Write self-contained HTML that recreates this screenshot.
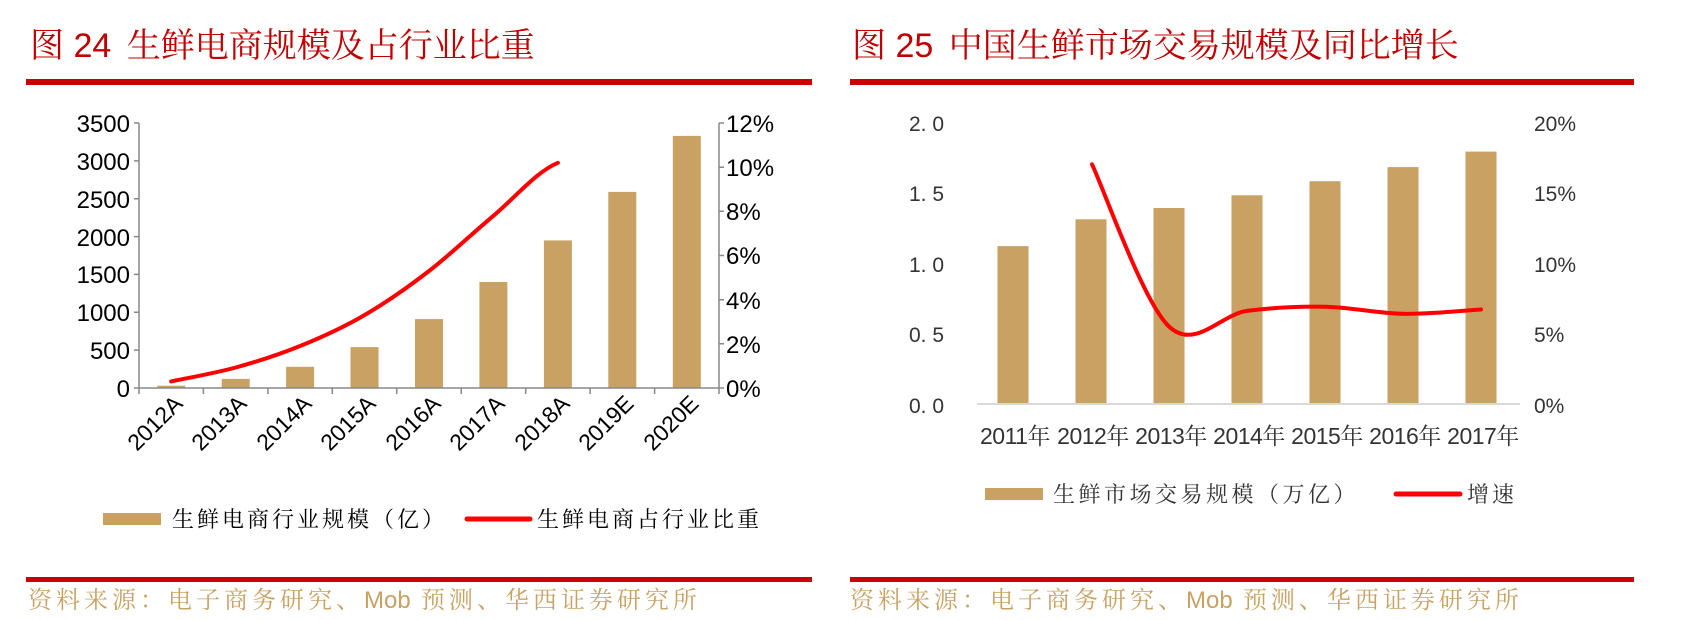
<!DOCTYPE html>
<html><head><meta charset="utf-8"><style>
html,body{margin:0;padding:0;background:#fff;}
svg{display:block;}
text{font-family:"Liberation Sans","Noto Sans CJK SC",sans-serif;}
.cjk{font-family:"Noto Serif CJK SC","Noto Sans CJK SC",serif;}
</style></head><body>
<svg width="1694" height="620" viewBox="0 0 1694 620" xmlns="http://www.w3.org/2000/svg">
<!-- titles -->
<text x="30" y="57" font-size="34" fill="#c00000"><tspan class="cjk">图</tspan> 24 <tspan class="cjk" dx="6">生鲜电商规模及占行业比重</tspan></text>
<text x="852" y="57" font-size="34" fill="#c00000"><tspan class="cjk">图</tspan> 25 <tspan class="cjk" dx="6">中国生鲜市场交易规模及同比增长</tspan></text>
<rect x="26" y="79" width="786" height="6" fill="#cc0000"/>
<rect x="850" y="79" width="784" height="6" fill="#cc0000"/>
<rect x="26" y="577" width="786" height="5" fill="#cc0000"/>
<rect x="850" y="577" width="784" height="5" fill="#cc0000"/>
<text class="cjk" x="28" y="608" font-size="24" letter-spacing="4" fill="#c9a263">资料来源：电子商务研究、<tspan font-family="Liberation Sans" letter-spacing="0">Mob</tspan> 预测、华西证券研究所</text>
<text class="cjk" x="850" y="608" font-size="24" letter-spacing="4" fill="#c9a263">资料来源：电子商务研究、<tspan font-family="Liberation Sans" letter-spacing="0">Mob</tspan> 预测、华西证券研究所</text>

<!-- LEFT CHART -->
<g fill="#c9a263">
<rect x="157.2" y="385.7" width="28" height="2.3"/>
<rect x="221.7" y="378.9" width="28" height="9.1"/>
<rect x="286.1" y="366.8" width="28" height="21.2"/>
<rect x="350.5" y="347.1" width="28" height="40.9"/>
<rect x="415" y="319.1" width="28" height="68.9"/>
<rect x="479.4" y="282" width="28" height="106"/>
<rect x="543.9" y="240.4" width="28" height="147.6"/>
<rect x="608.3" y="191.9" width="28" height="196.1"/>
<rect x="672.8" y="135.9" width="28" height="252.1"/>
</g>
<g stroke="#888" stroke-width="1.5" fill="none">
<line x1="139" y1="123" x2="139" y2="388"/>
<line x1="719" y1="123" x2="719" y2="388"/>
<line x1="139" y1="388" x2="719" y2="388"/>
<path d="M134 123H139M134 160.9H139M134 198.7H139M134 236.6H139M134 274.4H139M134 312.3H139M134 350.1H139M134 388H139"/>
<path d="M719 123H724M719 167.2H724M719 211.3H724M719 255.5H724M719 299.7H724M719 343.8H724M719 388H724"/>
<path d="M139 388V394M203.4 388V394M267.9 388V394M332.3 388V394M396.8 388V394M461.2 388V394M525.7 388V394M590.1 388V394M654.6 388V394M719 388V394"/>
</g>
<g font-size="24" fill="#000" text-anchor="end">
<text x="130" y="132">3500</text><text x="130" y="170">3000</text><text x="130" y="208">2500</text>
<text x="130" y="246">2000</text><text x="130" y="283">1500</text><text x="130" y="321">1000</text>
<text x="130" y="359">500</text><text x="130" y="397">0</text>
</g>
<g font-size="24" fill="#000">
<text x="726" y="132">12%</text><text x="726" y="176">10%</text><text x="726" y="220">8%</text>
<text x="726" y="264">6%</text><text x="726" y="309">4%</text><text x="726" y="353">2%</text><text x="726" y="397">0%</text>
</g>
<g font-size="23" fill="#000" text-anchor="end">
<text transform="translate(184,405) rotate(-45)">2012A</text>
<text transform="translate(248,405) rotate(-45)">2013A</text>
<text transform="translate(313,405) rotate(-45)">2014A</text>
<text transform="translate(377,405) rotate(-45)">2015A</text>
<text transform="translate(442,405) rotate(-45)">2016A</text>
<text transform="translate(506,405) rotate(-45)">2017A</text>
<text transform="translate(571,405) rotate(-45)">2018A</text>
<text transform="translate(635,405) rotate(-45)">2019E</text>
<text transform="translate(700,405) rotate(-45)">2020E</text>
</g>
<path d="M171.2 381.4C181.9 379.1 214.2 373.4 235.7 367.5C257.2 361.6 278.6 354.7 300.1 346C321.6 337.3 343 327.6 364.5 315.1C386 302.6 407.5 287.6 429 271C450.5 254.4 471.9 233.8 493.4 215.8C514.9 197.8 536.4 171.6 557.9 162.8" stroke="#ff0000" stroke-width="4" fill="none" stroke-linecap="round"/>
<!-- left legend -->
<rect x="103" y="513" width="58" height="12" fill="#c9a263"/>
<text class="cjk" x="172" y="527" font-size="22" letter-spacing="3" fill="#000">生鲜电商行业规模（亿）</text>
<line x1="467" y1="519" x2="530" y2="519" stroke="#ff0000" stroke-width="5" stroke-linecap="round"/>
<text class="cjk" x="537" y="527" font-size="22" letter-spacing="3" fill="#000">生鲜电商占行业比重</text>

<!-- RIGHT CHART -->
<g fill="#c9a263">
<rect x="997.5" y="246.1" width="31" height="157.9"/>
<rect x="1075.5" y="219.3" width="31" height="184.7"/>
<rect x="1153.5" y="208" width="31" height="196"/>
<rect x="1231.5" y="195.3" width="31" height="208.7"/>
<rect x="1309.5" y="181.2" width="31" height="222.8"/>
<rect x="1387.5" y="167.1" width="31" height="236.9"/>
<rect x="1465.5" y="151.6" width="31" height="252.4"/>
</g>
<line x1="977" y1="404" x2="1520" y2="404" stroke="#d9d9d9" stroke-width="2"/>
<g font-size="21" fill="#333" text-anchor="end">
<text x="944" y="131">2. 0</text><text x="944" y="201">1. 5</text><text x="944" y="272">1. 0</text>
<text x="944" y="342">0. 5</text><text x="944" y="413">0. 0</text>
</g>
<g font-size="21" fill="#333">
<text x="1534" y="131">20%</text><text x="1534" y="201">15%</text><text x="1534" y="272">10%</text>
<text x="1534" y="342">5%</text><text x="1534" y="413">0%</text>
</g>
<g font-size="23" fill="#333" text-anchor="middle" letter-spacing="-0.5">
<text x="1015" y="444">2011<tspan class="cjk">年</tspan></text>
<text x="1093" y="444">2012<tspan class="cjk">年</tspan></text>
<text x="1171" y="444">2013<tspan class="cjk">年</tspan></text>
<text x="1249" y="444">2014<tspan class="cjk">年</tspan></text>
<text x="1327" y="444">2015<tspan class="cjk">年</tspan></text>
<text x="1405" y="444">2016<tspan class="cjk">年</tspan></text>
<text x="1483" y="444">2017<tspan class="cjk">年</tspan></text>
</g>
<path d="M1092 164.3C1104.8 191.3 1143.2 302.1 1169 326.5C1194.8 350.9 1221 314.2 1247 310.9C1273 307.6 1299 306.2 1325 306.7C1351 307.2 1377 313.3 1403 313.8C1429 314.3 1468 310.2 1481 309.5" stroke="#ff0000" stroke-width="4" fill="none" stroke-linecap="round"/>
<!-- right legend -->
<rect x="985" y="488" width="58" height="12" fill="#c9a263"/>
<text class="cjk" x="1053" y="502" font-size="22" letter-spacing="3.5" fill="#333">生鲜市场交易规模（万亿）</text>
<line x1="1396" y1="494" x2="1460" y2="494" stroke="#ff0000" stroke-width="5" stroke-linecap="round"/>
<text class="cjk" x="1467" y="502" font-size="22" letter-spacing="3" fill="#333">增速</text>
</svg>
</body></html>
